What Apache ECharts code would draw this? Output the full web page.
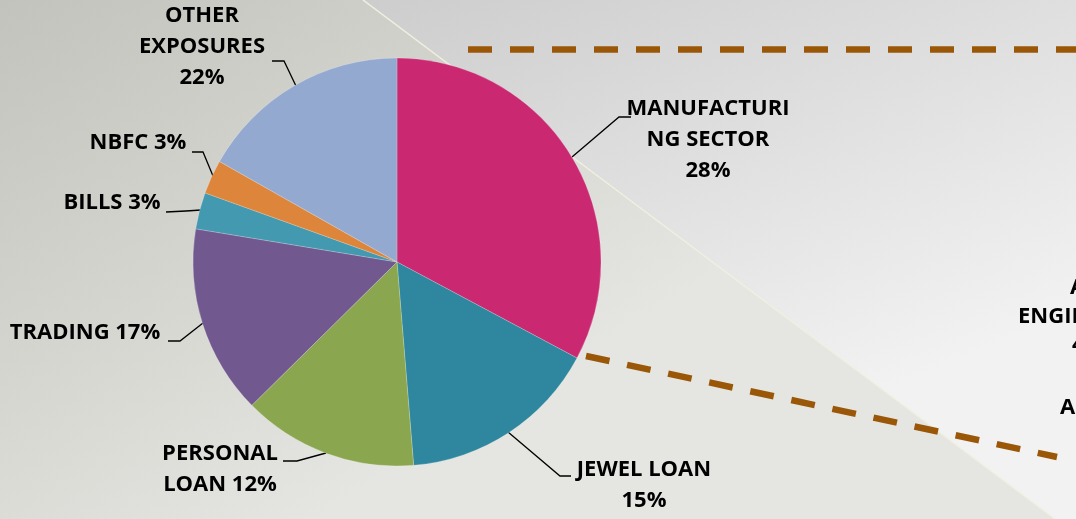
<!DOCTYPE html>
<html>
<head>
<meta charset="utf-8">
<script src="https://cdn.jsdelivr.net/npm/echarts@6/dist/echarts.min.js"></script>
<style>
  html, body { margin: 0; padding: 0; }
  #chart { width: 1076px; height: 519px; }
</style>
</head>
<body>
<div id="chart"></div>
<script>
// slice names (line breaks as in the picture)
var categories = ['MANUFACTURI\nNG SECTOR', 'JEWEL LOAN', 'PERSONAL\nLOAN', 'TRADING', 'BILLS', 'NBFC', 'OTHER\nEXPOSURES'];
// slice sizes as drawn (share of the circle, %)
var sliceShare = [32.8, 15.9, 13.9, 15.0, 2.9, 2.7, 16.8];
// percentages printed in the labels
var labelPct = [28, 15, 12, 17, 3, 3, 22];
var labelSep = ['\n', '\n', ' ', ' ', ' ', ' ', '\n'];
var colors = ['#ca2871', '#2e879e', '#8aa64e', '#71588f', '#4399b0', '#dd853a', '#93a9d0'];

// secondary pie labels, cut off at the right edge
var sideText = ['AUTO &', 'ENGINEERING', '4%', 'AUTOMOBILE'];

// label placement (Excel-like manual positions)
var labelPos = [[708, 140], [644, 485], [220, 469], [85, 333], [112, 203], [138, 143], [202, 47]];
var leaderPts = [
    [[572, 157], [619, 117], [631, 117]],
    [[508, 432], [560, 476], [571, 476]],
    [[326, 453], [297, 461], [283, 461]],
    [[203, 323], [180, 341], [168, 341]],
    [[201, 210], [186, 211], [166, 212]],
    [[213, 176], [203, 152], [192, 152]],
    [[296, 86], [284, 61], [272, 61]]
];

var myChart = echarts.init(document.getElementById('chart'));
var font = '"Open Sans", "Liberation Sans", sans-serif';

var pieData = categories.map(function (c, i) {
    return { name: c, value: sliceShare[i], itemStyle: { color: colors[i] } };
});

var sidePos = [[1070, 288], [1018, 317], [1072, 345], [1060, 408]];

var option = {
    animation: false,
    graphic: [
        {   // left / lower background part
            type: 'polygon', z: -10, silent: true,
            shape: { points: [[0, 0], [363, 0], [1055, 519], [0, 519]] },
            style: {
                fill: new echarts.graphic.LinearGradient(0, 0, 0.3, 1, [
                    { offset: 0, color: '#c3c3bd' },
                    { offset: 1, color: '#e5e5e1' }
                ])
            }
        },
        {   // right / upper background part
            type: 'polygon', z: -10, silent: true,
            shape: { points: [[363, 0], [1076, 0], [1076, 519], [1055, 519]] },
            style: {
                fill: new echarts.graphic.LinearGradient(0, 0, 0.3, 1, [
                    { offset: 0, color: '#cdcdcd' },
                    { offset: 1, color: '#f2f2f2' }
                ])
            }
        },
        {
            type: 'line', z: -9, silent: true,
            shape: { x1: 363, y1: 0, x2: 1055, y2: 519 },
            style: { stroke: '#f0efdf', lineWidth: 1.5 }
        },
        {   // pie-of-pie connector lines
            type: 'line', z: 1, silent: true,
            shape: { x1: 468, y1: 49.5, x2: 1076, y2: 49.5 },
            style: { stroke: '#9a5708', lineWidth: 6.5, lineDash: [24, 18] }
        },
        {
            type: 'line', z: 1, silent: true,
            shape: { x1: 586, y1: 356, x2: 1057, y2: 457 },
            style: { stroke: '#9a5708', lineWidth: 6.5, lineDash: [24, 18] }
        }
    ].concat(sideText.map(function (t, i) {
        return {
            type: 'text', z: 1, silent: true,
            x: sidePos[i][0], y: sidePos[i][1],
            style: {
                text: t, fill: '#000', font: 'bold 22px ' + font,
                textAlign: 'left', textVerticalAlign: 'middle'
            }
        };
    })),
    series: [{
        type: 'pie',
        center: [397, 262],
        radius: 204,
        startAngle: 90,
        clockwise: true,
        avoidLabelOverlap: false,
        itemStyle: { borderColor: 'rgba(255,255,255,0.35)', borderWidth: 0.6 },
        label: {
            show: true,
            position: 'outside',
            color: '#000',
            fontFamily: font,
            fontWeight: 'bold',
            fontSize: 22,
            lineHeight: 31,
            formatter: function (p) {
                return categories[p.dataIndex] + labelSep[p.dataIndex] + labelPct[p.dataIndex] + '%';
            }
        },
        labelLine: {
            show: true,
            lineStyle: { color: '#000', width: 1.3 }
        },
        labelLayout: function (params) {
            var i = params.dataIndex;
            return {
                x: labelPos[i][0],
                y: labelPos[i][1],
                align: 'center',
                verticalAlign: 'middle',
                labelLinePoints: leaderPts[i]
            };
        },
        emphasis: { disabled: true },
        data: pieData
    }]
};

option && myChart.setOption(option);
</script>
</body>
</html>
